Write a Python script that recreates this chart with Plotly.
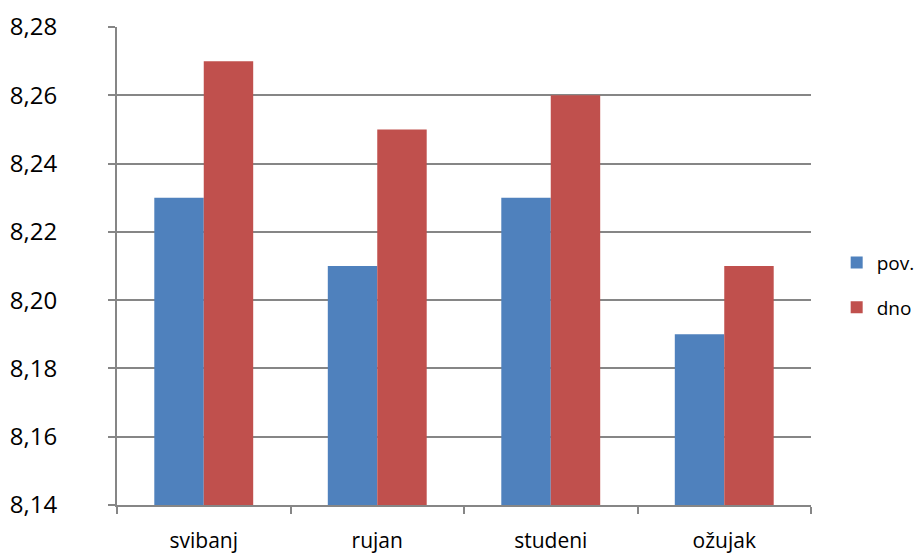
import plotly.graph_objects as go

mjeseci = ["svibanj", "rujan", "studeni", "ožujak"]
pov = [8.23, 8.21, 8.23, 8.19]
dno = [8.27, 8.25, 8.26, 8.21]

FONT = "Open Sans"
GRID = "#868686"

fig = go.Figure()
fig.add_trace(go.Bar(x=mjeseci, y=pov, name="pov.", marker=dict(color="#4F81BD", line=dict(width=0)),
                     legendgroup="a"))
fig.add_trace(go.Bar(x=mjeseci, y=dno, name="dno", marker=dict(color="#C0504D", line=dict(width=0)),
                     legendgroup="b"))

# page body has an 8px margin, so the margins below are shifted by that
fig.update_layout(
    width=922, height=553,
    paper_bgcolor="white", plot_bgcolor="white",
    separators=", ",
    barmode="group", bargap=0.43, bargroupgap=0,
    margin=dict(l=109, r=119, t=19, b=56, autoexpand=False),
    font=dict(family=FONT, size=20, color="black"),
    xaxis=dict(
        showline=True, linecolor=GRID, linewidth=2, automargin=False,
        ticks="outside", tickson="boundaries", ticklen=7, tickcolor=GRID, tickwidth=2,
        tickfont=dict(size=21), showgrid=False, ticklabelstandoff=16,
    ),
    yaxis=dict(
        range=[8.14, 8.28], dtick=0.02, tickformat=".2f", automargin=False,
        showline=True, linecolor=GRID, linewidth=2,
        ticks="outside", ticklen=7, tickcolor=GRID, tickwidth=2,
        showgrid=True, gridcolor=GRID, gridwidth=1.5, zeroline=False,
        tickfont=dict(size=24), ticklabelstandoff=46,
    ),
    legend=dict(x=1.037, y=0.46, xanchor="left", yanchor="middle",
                font=dict(size=19), tracegroupgap=17, traceorder="grouped",
                itemwidth=30),
    showlegend=True,
)

fig.write_html("out.html")
